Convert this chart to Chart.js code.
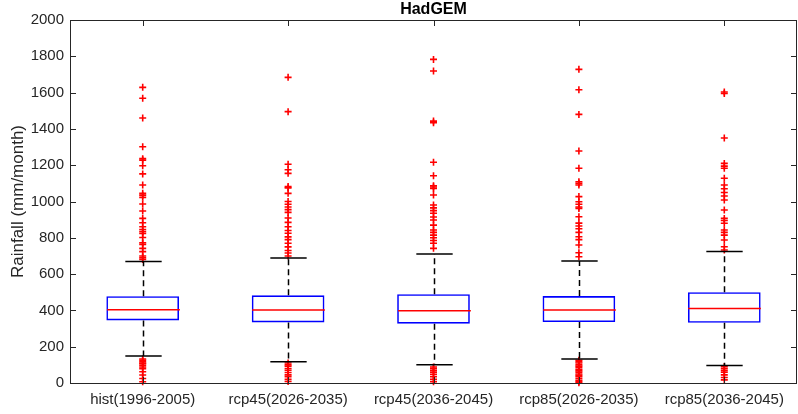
<!DOCTYPE html>
<html>
<head>
<meta charset="utf-8">
<script src="https://cdn.jsdelivr.net/npm/chart.js@4.4.1/dist/chart.umd.min.js"></script>
<style>
  body { margin: 0; background: #fff; }
  #wrap { width: 798px; height: 414px; position: relative; }
</style>
</head>
<body>
<div id="wrap"><canvas id="boxChart"></canvas></div>
<script>
// categories and box statistics (mm/month)
var categories = ["hist(1996-2005)", "rcp45(2026-2035)", "rcp45(2036-2045)", "rcp85(2026-2035)", "rcp85(2036-2045)"];
var q1Values = [345, 334, 327, 336, 332];
var medianValues = [404, 402, 398, 402, 410];
var q3Values = [478, 483, 489, 479, 500];
var whiskerLow = [149, 117, 101, 132, 97];
var whiskerHigh = [669, 689, 711, 672, 724];

// outliers per category
var outliersHist = [1629, 1569, 1460, 1302, 1236, 1228, 1197, 1152, 1091, 1045, 1035, 1023, 986, 948, 907, 883, 861, 846, 834, 824, 802, 773, 764, 742, 724, 700, 690, 681,
    132, 125, 117, 110, 106, 98, 88, 79, 62, 44, 25, 7];
var outliersRcp45a = [1684, 1495, 1205, 1175, 1155, 1082, 1075, 1045, 1000, 985, 970, 955, 940, 909, 885, 861, 840, 825, 805, 790, 770, 750, 730, 716, 700,
    110, 100, 92, 80, 70, 58, 45, 35, 20, 8];
var outliersRcp45b = [1783, 1719, 1443, 1434, 1216, 1142, 1087, 1080, 1072, 1036, 981, 965, 950, 935, 915, 898, 870, 843, 830, 815, 800, 785, 770, 742,
    88, 80, 70, 60, 48, 35, 20, 7];
var outliersRcp85a = [1728, 1616, 1480, 1278, 1183, 1109, 1100, 1091, 1027, 999, 985, 970, 962, 916, 881, 865, 850, 830, 806, 790, 760, 718, 696,
    125, 118, 110, 100, 92, 85, 75, 68, 60, 50, 42, 35, 25, 15, 8, 2];
var outliersRcp85b = [1603, 1595, 1350, 1210, 1195, 1183, 1128, 1091, 1070, 1050, 1030, 1008, 953, 907, 895, 880, 843, 830, 815, 788, 751, 733,
    90, 80, 70, 60, 45, 30, 17];
var outlierLists = [outliersHist, outliersRcp45a, outliersRcp45b, outliersRcp85a, outliersRcp85b];

var yTicks = [0, 200, 400, 600, 800, 1000, 1200, 1400, 1600, 1800, 2000];

var boxRanges = categories.map(function (c, i) { return [q1Values[i], q3Values[i]]; });
var outlierPoints = [];
outlierLists.forEach(function (list, i) {
    list.forEach(function (v) { outlierPoints.push({ x: categories[i], y: v }); });
});

var axisColor = '#262626';
var fontFamily = "Arial, 'Liberation Sans', Helvetica, sans-serif";

// whiskers, medians, frame, inward ticks and title
var boxExtras = {
    id: 'boxExtras',
    afterDatasetsDraw: function (chart) {
        var ctx = chart.ctx;
        var ys = chart.scales.y;
        var bars = chart.getDatasetMeta(0).data;
        ctx.save();
        bars.forEach(function (bar, i) {
            var cx = Math.round(bar.x) + 0.5, half = bar.width / 2, cap = bar.width / 4;
            var yq1 = ys.getPixelForValue(q1Values[i]);
            var yq3 = ys.getPixelForValue(q3Values[i]);
            var ylo = ys.getPixelForValue(whiskerLow[i]);
            var yhi = ys.getPixelForValue(whiskerHigh[i]);
            var ymed = ys.getPixelForValue(medianValues[i]);
            // dashed whiskers
            ctx.strokeStyle = '#000';
            ctx.lineWidth = 1.5;
            ctx.setLineDash([6, 4]);
            ctx.beginPath();
            ctx.moveTo(cx, yq3); ctx.lineTo(cx, yhi);
            ctx.moveTo(cx, yq1); ctx.lineTo(cx, ylo);
            ctx.stroke();
            ctx.setLineDash([]);
            // caps
            ctx.beginPath();
            ctx.moveTo(cx - cap, yhi); ctx.lineTo(cx + cap, yhi);
            ctx.moveTo(cx - cap, ylo); ctx.lineTo(cx + cap, ylo);
            ctx.stroke();
            // median
            ctx.strokeStyle = '#ff0000';
            ctx.beginPath();
            ctx.moveTo(cx - half, ymed); ctx.lineTo(cx + half, ymed);
            ctx.stroke();
        });
        ctx.restore();
    },
    afterDraw: function (chart) {
        var ctx = chart.ctx;
        var xs = chart.scales.x, ys = chart.scales.y;
        var a = chart.chartArea;
        var tl = 6;
        ctx.save();
        ctx.strokeStyle = axisColor;
        ctx.lineWidth = 1;
        ctx.strokeRect(Math.round(a.left) + 0.5, Math.round(a.top) + 0.5, Math.round(a.right - a.left) - 1, Math.round(a.bottom - a.top));
        ctx.beginPath();
        ys.ticks.forEach(function (t, i) {
            var y = Math.round(ys.getPixelForTick(i)) + 0.5;
            ctx.moveTo(a.left, y); ctx.lineTo(a.left + tl, y);
            ctx.moveTo(a.right, y); ctx.lineTo(a.right - tl, y);
        });
        xs.ticks.forEach(function (t, i) {
            var x = Math.round(xs.getPixelForTick(i)) + 0.5;
            ctx.moveTo(x, a.top); ctx.lineTo(x, a.top + tl);
            ctx.moveTo(x, a.bottom); ctx.lineTo(x, a.bottom - tl);
        });
        ctx.stroke();
        // title
        ctx.fillStyle = '#000';
        ctx.font = 'bold 16px ' + fontFamily;
        ctx.textAlign = 'center';
        ctx.textBaseline = 'middle';
        ctx.fillText('HadGEM', (a.left + a.right) / 2, 10);
        ctx.restore();
    }
};

var ctx = document.getElementById('boxChart').getContext('2d');
var boxChart = new Chart(ctx, {
    type: 'bar',
    data: {
        labels: categories,
        datasets: [{
            label: 'box',
            data: boxRanges,
            backgroundColor: 'rgba(0,0,0,0)',
            borderColor: '#0000ff',
            borderWidth: 1.6,
            borderSkipped: false,
            barPercentage: 0.5,
            categoryPercentage: 1,
            order: 2
        }, {
            type: 'line',
            label: 'outliers',
            data: outlierPoints,
            showLine: false,
            pointStyle: 'cross',
            pointRadius: 3.5,
            pointBorderWidth: 1.6,
            pointBorderColor: '#ff0000',
            pointBackgroundColor: '#ff0000',
            clip: false,
            order: 1
        }]
    },
    options: {
        responsive: true,
        maintainAspectRatio: false,
        animation: false,
        layout: { autoPadding: false, padding: { top: 20, right: 1, left: 0, bottom: 0 } },
        plugins: {
            legend: { display: false },
            tooltip: { enabled: false },
            title: { display: false }
        },
        scales: {
            x: {
                type: 'category',
                offset: true,
                grid: { display: false, drawTicks: false },
                border: { display: false },
                ticks: { color: '#262626', padding: 8, maxRotation: 0, font: { family: fontFamily, size: 15 } },
                afterFit: function (scale) { scale.height = 31; scale.paddingLeft = 0; scale.paddingRight = 0; }
            },
            y: {
                min: 0,
                max: 2000,
                afterBuildTicks: function (scale) { scale.ticks = yTicks.map(function (v) { return { value: v }; }); },
                grid: { display: false, drawTicks: false },
                border: { display: false },
                ticks: {
                    color: '#262626',
                    padding: 6,
                    font: { family: fontFamily, size: 15 },
                    callback: function (v) { return String(v); }
                },
                title: {
                    display: true,
                    text: 'Rainfall (mm/month)',
                    color: '#262626',
                    font: { family: fontFamily, size: 17 },
                    padding: { top: 8, bottom: 0 }
                },
                afterFit: function (scale) { scale.width = 70; scale.paddingTop = 0; scale.paddingBottom = 0; }
            }
        }
    },
    plugins: [boxExtras]
});
</script>
</body>
</html>
